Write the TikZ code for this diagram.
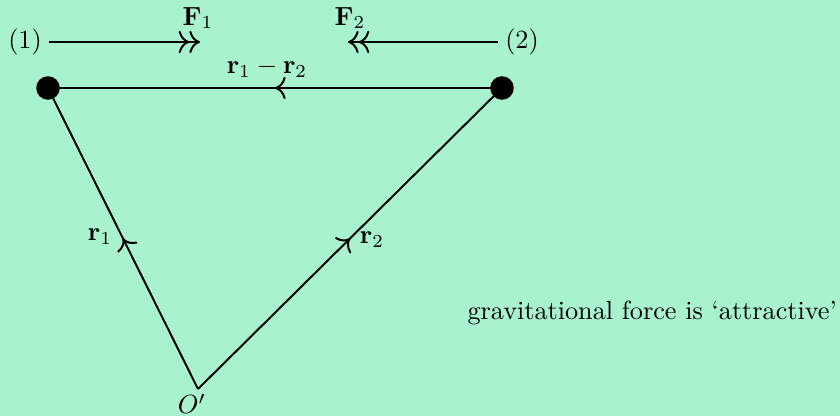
\documentclass[tikz,border=0pt]{standalone}
\usetikzlibrary{decorations.markings,arrows.meta}
\definecolor{bg}{RGB}{168,242,206}
\begin{document}
\begin{tikzpicture}[x=0.3817pt,y=-0.3817pt,
  line/.style={line width=0.75pt},
  dot/.style={circle,fill=black,inner sep=0pt,minimum size=9pt},
  midarrow/.style={postaction={decorate},decoration={markings,mark=at position 0.5 with {\arrow{To[scale=1.25]}}}},
  dbl/.style={-{To[scale=1.25]To[scale=1.25]}},
  lbl/.style={inner sep=1pt}]
\fill[bg] (0,0) rectangle (840,416);
\useasboundingbox (0,0) rectangle (840,416);
\node[dot] (p1) at (48,88) {};
\node[dot] (p2) at (502,88) {};
\coordinate (o) at (198,389);
\node[lbl] (op) at (192,404) {$O'$};
\draw[line,midarrow] (p2.center) -- (p1.center);
\draw[line,midarrow] (o) -- (p1.center);
\draw[line,midarrow] (o) -- (p2.center);
\node[lbl] (l12) at (267,68) {$\mathbf{r}_1-\mathbf{r}_2$};
\node[lbl] (lr1) at (100,237) {$\mathbf{r}_1$};
\node[lbl] (lr2) at (372,240) {$\mathbf{r}_2$};
\node[lbl] (n1) at (25,42) {(1)};
\node[lbl] (n2) at (522,42) {(2)};
\coordinate (f1) at (200,42);
\coordinate (f2) at (348,42);
\draw[line,dbl] (n1.east) ++(4,0) -- (f1);
\draw[line,dbl] (n2.west) ++(-4,0) -- (f2);
\node[lbl] (lf1) at (198,18) {$\mathbf{F}_1$};
\node[lbl] (lf2) at (350,18) {$\mathbf{F}_2$};
\node[inner sep=0pt,anchor=west] (txt) at (467,313) {gravitational force is `attractive'};
\end{tikzpicture}
\end{document}
